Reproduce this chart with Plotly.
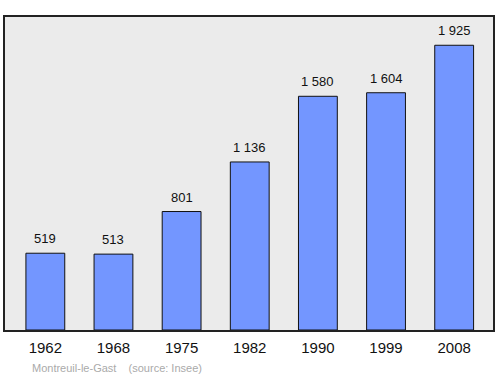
import plotly.graph_objects as go

years = ["1962", "1968", "1975", "1982", "1990", "1999", "2008"]
population = [519, 513, 801, 1136, 1580, 1604, 1925]
labels = ["519", "513", "801", "1 136", "1 580", "1 604", "1 925"]

xs = list(range(len(years)))
font = "Liberation Sans, Arial, sans-serif"

fig = go.Figure()
fig.add_trace(go.Bar(
    x=xs, y=population, width=0.57,
    marker=dict(color="#7396ff", line=dict(color="#111111", width=1)),
    hoverinfo="skip",
))
for x, v, t in zip(xs, population, labels):
    fig.add_annotation(x=x, y=v, text=t, showarrow=False, yanchor="bottom",
                       yshift=5, font=dict(family=font, size=13, color="#111111"))

fig.add_annotation(xref="paper", yref="paper", x=0.052, y=-0.12, xanchor="left",
                   yanchor="middle", showarrow=False,
                   text="Montreuil-le-Gast &nbsp;&nbsp; (source: Insee)",
                   font=dict(family=font, size=11, color="#aaaaaa"))

fig.update_layout(
    width=500, height=374,
    margin=dict(l=5, r=5, t=17, b=44),
    paper_bgcolor="white", plot_bgcolor="#ebebeb",
    showlegend=False,
    xaxis=dict(range=[-0.592, 6.570], tickmode="array", tickvals=xs, ticktext=years,
               showgrid=False, zeroline=False, showline=True, linecolor="#222222",
               linewidth=1.5, mirror=True, ticks="outside", ticklen=3,
               tickcolor="rgba(0,0,0,0)",
               tickfont=dict(family=font, size=15, color="#111111")),
    yaxis=dict(range=[0, 2116], showgrid=False, zeroline=False, showticklabels=False,
               showline=True, linecolor="#222222", linewidth=1.5, mirror=True, ticks=""),
)
fig.write_html("out.html")
